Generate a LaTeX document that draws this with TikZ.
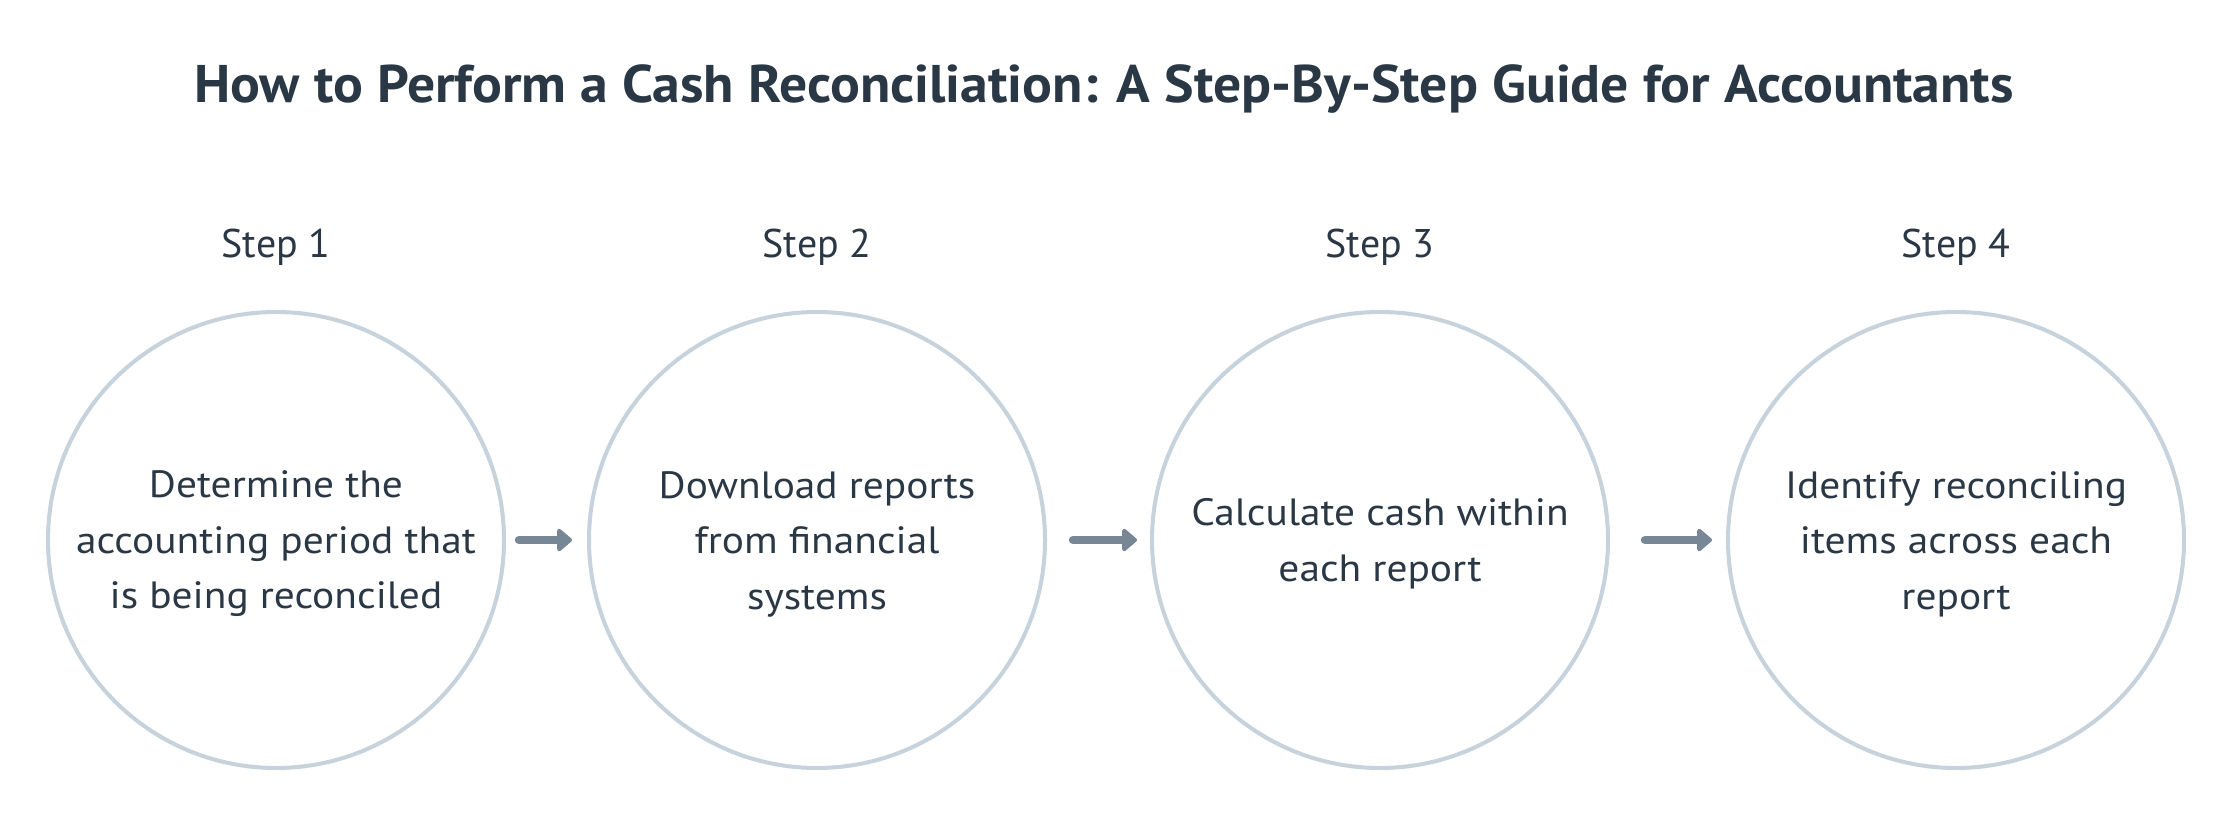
\documentclass[tikz,border=0pt]{standalone}
\usepackage{fontspec}
\setmainfont{PT Sans}
\newfontfamily\titlefont[FakeStretch=1.05]{PT Sans}
\newfontfamily\bodyfont[FakeStretch=1.09]{PT Sans}
\usetikzlibrary{arrows.meta}
\definecolor{txt}{HTML}{2A3846}
\definecolor{ring}{HTML}{C6D2DC}
\definecolor{arr}{HTML}{778796}
\begin{document}
\begin{tikzpicture}[x=1pt,y=-1pt,
  stepcircle/.style={circle,draw=ring,line width=4pt,minimum size=456pt,inner sep=0pt,fill=white},
  body/.style={text=txt,font=\bodyfont\fontsize{38}{55.5}\selectfont,align=center},
  steplabel/.style={text=txt,font=\fontsize{40}{48}\selectfont,anchor=base},
  conn/.style={draw=arr,line width=8.5pt,line cap=round,-{Triangle[length=16pt,width=26pt,round]}}
]
\useasboundingbox[fill=white] (0,0) rectangle (2232,816);
\node[text=txt,font=\titlefont\fontsize{53}{60}\selectfont\bfseries,anchor=base] (title) at (1104,102) {How to Perform a Cash Reconciliation: A Step-By-Step Guide for Accountants};
\node[steplabel] (l1) at (276,257) {Step 1};
\node[steplabel] (l2) at (817,257) {Step 2};
\node[steplabel] (l3) at (1380,257) {Step 3};
\node[steplabel] (l4) at (1956,257) {Step 4};
\node[stepcircle] (c1) at (276,540) {};
\node[stepcircle] (c2) at (817,540) {};
\node[stepcircle] (c3) at (1380,540) {};
\node[stepcircle] (c4) at (1956,540) {};
\node[body] (t1) at ([yshift=-4pt]c1) {Determine the\\accounting period that\\is being reconciled};
\node[body] (t2) at ([yshift=-4pt]c2) {Download reports\\from financial\\systems};
\node[body] (t3) at ([yshift=-4pt]c3) {Calculate cash within\\each report};
\node[body] (t4) at ([yshift=-4pt]c4) {Identify reconciling\\items across each\\report};
\draw[conn] ([xshift=13pt]c1.east) -- ([xshift=-15pt]c2.west);
\draw[conn] ([xshift=26pt]c2.east) -- ([xshift=-13pt]c3.west);
\draw[conn] ([xshift=35pt]c3.east) -- ([xshift=-14pt]c4.west);
\end{tikzpicture}
\end{document}
